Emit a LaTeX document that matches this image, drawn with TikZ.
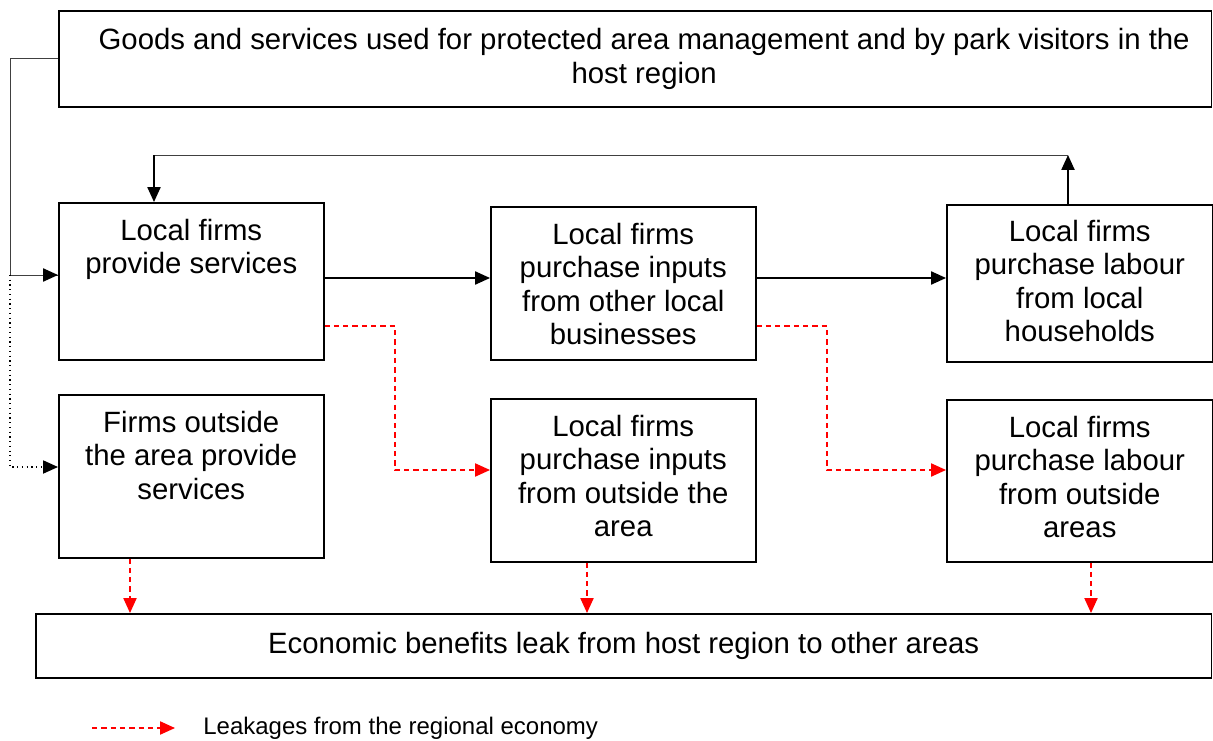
\documentclass[tikz,border=0pt]{standalone}
\usepackage{fontspec}
\setmainfont{Liberation Sans}
\usetikzlibrary{arrows.meta,positioning,calc}

\begin{document}
\begin{tikzpicture}[
    x=0.02cm, y=-0.02cm,
    box/.style={rectangle, draw, line width=0.9pt, anchor=north west, inner sep=0pt},
    boxtext/.style={align=center, inner sep=0pt, font=\fontsize{16.7}{19}\selectfont},
    flow/.style={-{Triangle[length=8.5pt,width=7.5pt]}, line width=0.9pt},
    link/.style={line width=0.5pt, black!75},
    outside/.style={-{Triangle[length=8.5pt,width=7.5pt]}, dotted, line width=0.7pt},
    leak/.style={-{Triangle[length=8.5pt,width=7.5pt]}, red, dash pattern=on 3pt off 2.3pt, line width=0.8pt},
    legtext/.style={font=\fontsize{13.65}{16}\selectfont, anchor=west, inner sep=0pt}
]
\useasboundingbox (0,0) rectangle (1213,740);

% Spending in the host region
\node[box, minimum width=23.06cm, minimum height=1.92cm] (bTop) at (58,10) {};
\node[boxtext, right=0.18cm of bTop.center, anchor=center] (tTop)
    {Goods and services used for protected area management and by park visitors in the\\host region};

% Local round of spending
\node[box, minimum width=5.3cm, minimum height=3.14cm] (bA) at (58,202) {};
\node[box, minimum width=5.3cm, minimum height=3.06cm] (bB) at (490,206) {};
\node[box, minimum width=5.32cm, minimum height=3.14cm] (bC) at (946,204) {};
\node[boxtext, below=0.34cm of bA.north] (tA) {Local firms\\provide services};
\node[boxtext, below=0.34cm of bB.north] (tB) {Local firms\\purchase inputs\\from other local\\businesses};
\node[boxtext, below=0.32cm of bC.north] (tC) {Local firms\\purchase labour\\from local\\households};

% Spending outside the region
\node[box, minimum width=5.3cm, minimum height=3.26cm] (bD) at (58,394) {};
\node[box, minimum width=5.3cm, minimum height=3.26cm] (bE) at (490,398) {};
\node[box, minimum width=5.32cm, minimum height=3.24cm] (bF) at (946,399) {};
\node[boxtext, below=0.34cm of bD.north] (tD) {Firms outside\\the area provide\\services};
\node[boxtext, below=0.34cm of bE.north] (tE) {Local firms\\purchase inputs\\from outside the\\area};
\node[boxtext, below=0.34cm of bF.north] (tF) {Local firms\\purchase labour\\from outside\\areas};

% Leakage
\node[box, boxtext, minimum width=23.52cm, minimum height=1.28cm] (bBot) at (35,613)
    {Economic benefits leak from host region to other areas};

% Helper points
\coordinate (lft) at (10,275);
\coordinate (lftlow) at (10,467);
\coordinate (mid) at (0,278);
\coordinate (fbR) at (1068,155);
\coordinate (fbL) at (154,155);
\coordinate (lk1) at (395,326);
\coordinate (lk1b) at (395,470);
\coordinate (lk2) at (827,326);
\coordinate (lk2b) at (827,470);
\coordinate (d1) at (130,0);
\coordinate (d2) at (587,0);
\coordinate (d3) at (1091,0);

% Black flows
\draw[link] (bTop.west) -| (lft);
\draw[link] (lft) -- (lft -| bA.west);
\draw[flow] ($(lft -| bA.west)+(-15,0)$) -- (lft -| bA.west);
\draw[outside] (lft) |- (lftlow -| bD.west);
\draw[flow] (bA.east |- mid) -- (bB.west |- mid);
\draw[flow] (bB.east |- mid) -- (bC.west |- mid);
\draw[flow] (fbR |- bC.north) -- (fbR);
\draw[link] (fbR) -- (fbL);
\draw[flow] (fbL) -- (fbL |- bA.north);

% Red leakages
\draw[leak] (bA.east |- lk1) -- (lk1) -- (lk1b) -- (lk1b -| bE.west);
\draw[leak] (bB.east |- lk2) -- (lk2) -- (lk2b) -- (lk2b -| bF.west);
\draw[leak] (d1 |- bD.south) -- (d1 |- bBot.north);
\draw[leak] (d2 |- bE.south) -- (d2 |- bBot.north);
\draw[leak] (d3 |- bF.south) -- (d3 |- bBot.north);

% Legend
\coordinate (legS) at (92,728);
\coordinate (legE) at (175,728);
\draw[leak] (legS) -- (legE);
\node[legtext] (leg) at (203,728) {Leakages from the regional economy};

\end{tikzpicture}
\end{document}
